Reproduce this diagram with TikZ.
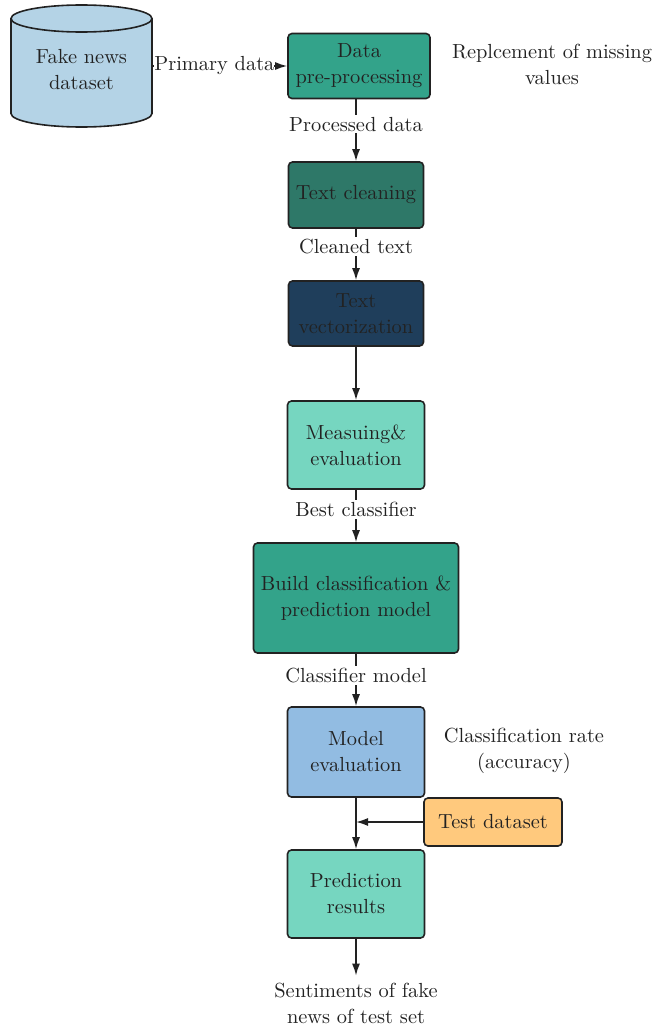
\documentclass[tikz,border=0pt]{standalone}
\usepackage{tikz}
\usetikzlibrary{arrows.meta}
\definecolor{tealA}{HTML}{33A38A}
\definecolor{tealB}{HTML}{2E7868}
\definecolor{navyA}{HTML}{1F3E5B}
\definecolor{mintA}{HTML}{76D6C0}
\definecolor{blueA}{HTML}{92BCE2}
\definecolor{orangeA}{HTML}{FFC97D}
\definecolor{cylA}{HTML}{B4D3E6}
\definecolor{inkA}{HTML}{222222}
\tikzset{
  stepbox/.style={draw=inkA, thick, rounded corners=2pt, align=center, text=inkA, inner sep=1pt},
  lbl/.style={fill=white, text=inkA, inner sep=1pt},
  note/.style={align=center, text=inkA},
  flow/.style={draw=inkA, thick, -{Latex[length=6pt,width=4pt]}}
}
\begin{document}
\begin{tikzpicture}[x=0.5pt,y=-0.5pt,font=\fontsize{10.2}{13}\selectfont]
    \useasboundingbox (0,0) rectangle (666,1028);
    \draw[thick, draw=inkA, fill=cylA] (11,18.5) -- (11,113.5)
      arc[start angle=180, end angle=0, x radius=70.5, y radius=13.5] -- (152,18.5);
    \draw[thick, draw=inkA, fill=cylA] (81.5,18.5) ellipse [x radius=70.5, y radius=13.5];
    \node[note, minimum width=70.5pt, minimum height=40pt] (db) at (81.5,70) {Fake news\\dataset};
    \node[stepbox, fill=tealA, minimum width=71pt, minimum height=32.5pt] (pre) at (359,66) {Data\\pre-processing};
    \node[stepbox, fill=tealB, minimum width=67.5pt, minimum height=33pt] (clean) at (356,195) {Text cleaning};
    \node[stepbox, fill=navyA, minimum width=67.5pt, minimum height=32.5pt] (vec) at (356,313.5) {Text\\vectorization};
    \node[stepbox, fill=mintA, minimum width=68.5pt, minimum height=44pt] (meas) at (356,445) {Measuing\&\\evaluation};
    \node[stepbox, fill=tealA, minimum width=102.5pt, minimum height=55pt] (build) at (356,598) {Build classification \&\\prediction model};
    \node[stepbox, fill=blueA, minimum width=68.5pt, minimum height=45pt] (modl) at (356,752) {Model\\evaluation};
    \node[stepbox, fill=orangeA, minimum width=69pt, minimum height=24pt] (test) at (493,822) {Test dataset};
    \node[stepbox, fill=mintA, minimum width=68.5pt, minimum height=44pt] (pred) at (356,894) {Prediction\\results};
    \node[note] (out) at (356,1003) {Sentiments of fake\\news of test set};
    \node[note] (miss) at (552,64) {Replcement of missing\\values};
    \node[note] (rate) at (524,751) {Classification rate\\(accuracy)};
    \draw[flow] (db.east |- pre.west) -- node[lbl, inner xsep=0pt, pos=.46] {Primary data} (pre.west);
    \draw[flow] (pre.south -| clean.north) -- node[lbl, pos=.4] {Processed data} (clean);
    \draw[flow] (clean) -- node[lbl, pos=.34] {Cleaned text} (vec);
    \draw[flow] (vec) -- (meas);
    \draw[flow] (meas) -- node[lbl, pos=.38] {Best classifier} (build);
    \draw[flow] (build) -- node[lbl, pos=.42] {Classifier model} (modl);
    \draw[flow] (modl) -- (pred);
    \draw[flow] (test.west) -- (test.west -| modl.south);
    \draw[flow] (pred) -- (out);
\end{tikzpicture}
\end{document}
